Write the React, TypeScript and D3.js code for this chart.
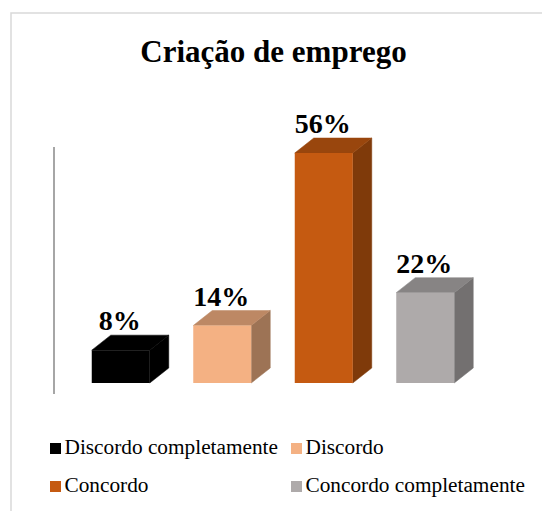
import React from "react";
import * as d3 from "d3";

const categories = ["Discordo completamente", "Discordo", "Concordo", "Concordo completamente"];
const values = [8, 14, 56, 22];
const labels = ["8%", "14%", "56%", "22%"];
const frontColors = ["#000000", "#f4b183", "#c55a11", "#aeaaaa"];
const topColors = ["#000000", "#bd8864", "#99460d", "#878484"];
const sideColors = ["#000000", "#9d7355", "#7f3a0a", "#737070"];
const legendColors = ["#000000", "#f4b183", "#c55a11", "#aeaaaa"];

const W = 542;
const H = 511;
const FONT = "'Liberation Serif', 'Times New Roman', serif";

export default function App() {
  const x = d3.scaleBand<string>().domain(categories).range([70, 476]).padding(0);
  const y = d3.scaleLinear().domain([0, 56]).range([383, 153]);
  const barW = 58;
  const dx = 19;
  const dy = 15;

  const legendPos = [
    { x: 50, y: 454 },
    { x: 291, y: 454 },
    { x: 50, y: 492 },
    { x: 291, y: 492 },
  ];

  return (
    <svg
      width={W}
      height={H}
      style={{ position: "absolute", left: 0, top: 0, background: "#fff" }}
      fontFamily={FONT}
    >
      <rect x={11} y={13} width={W + 20} height={H + 20} fill="#fff" stroke="#d9d9d9" strokeWidth={1.5} />
      <text x={273.5} y={62} textAnchor="middle" fontSize={31} fontWeight="bold" fill="#000">
        Criação de emprego
      </text>
      <line x1={54} x2={54} y1={147} y2={394} stroke="#a6a6a6" strokeWidth={2} />
      {categories.map((c, i) => {
        const cx = (x(c) as number) + x.bandwidth() / 2;
        const x0 = cx - barW / 2;
        const x1 = cx + barW / 2;
        const yb = y(0);
        const yt = y(values[i]);
        const front = `M${x0},${yt}L${x1},${yt}L${x1},${yb}L${x0},${yb}Z`;
        const top = `M${x0},${yt}L${x0 + dx},${yt - dy}L${x1 + dx},${yt - dy}L${x1},${yt}Z`;
        const side = `M${x1},${yt}L${x1 + dx},${yt - dy}L${x1 + dx},${yb - dy}L${x1},${yb}Z`;
        return (
          <g key={c}>
            <path d={side} fill={sideColors[i]} stroke={sideColors[i]} strokeWidth={0.5} />
            <path d={top} fill={topColors[i]} stroke={topColors[i]} strokeWidth={0.5} />
            <path d={front} fill={frontColors[i]} />
            <text x={cx - 1} y={yt - dy - 5} textAnchor="middle" fontSize={28} fontWeight="bold" fill="#000">
              {labels[i]}
            </text>
          </g>
        );
      })}
      {categories.map((c, i) => (
        <g key={"lg" + c}>
          <rect x={legendPos[i].x} y={legendPos[i].y - 11} width={11} height={11} fill={legendColors[i]} />
          <text x={legendPos[i].x + 14.5} y={legendPos[i].y} fontSize={21.3} fill="#000">
            {c}
          </text>
        </g>
      ))}
    </svg>
  );
}
